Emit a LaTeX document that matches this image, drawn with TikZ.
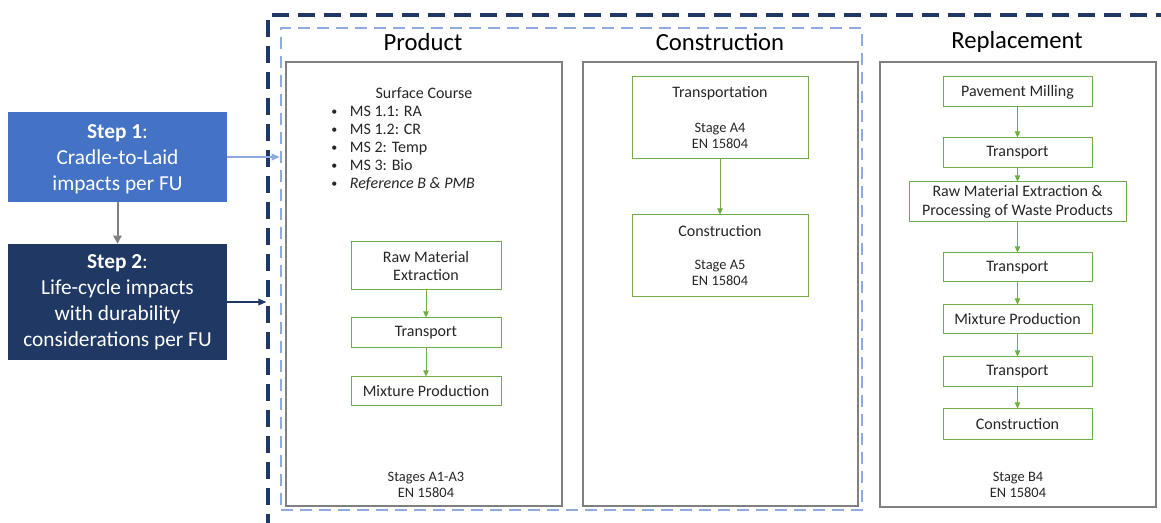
\documentclass[tikz,border=0pt]{standalone}
\usepackage{fontspec}
\setmainfont{Carlito}
\usetikzlibrary{fit,arrows.meta}
\definecolor{navy}{HTML}{203864}
\definecolor{stepblue}{HTML}{4472C4}
\definecolor{paleblue}{HTML}{8FAADC}
\definecolor{leaf}{HTML}{70AD47}
\definecolor{framegray}{HTML}{808080}
\definecolor{ink}{HTML}{262626}
\newcommand{\smallbullet}{\raisebox{1.2pt}{\fontsize{9}{9}\selectfont\textbullet}}
\tikzset{
  stagebox/.style={draw=framegray, line width=1.5pt, inner sep=0pt},
  gbox/.style={draw=leaf, line width=0.75pt, inner sep=0pt},
  gtext/.style={text=ink, align=center, inner sep=0pt, font=\fontsize{12}{14}\selectfont},
  small/.style={text=ink, align=center, inner sep=0pt, font=\fontsize{10.8}{12}\selectfont},
  title/.style={text=black, font=\fontsize{18.5}{20}\selectfont},
  bul/.style={text=ink, anchor=west, inner sep=0pt, text height=8.5pt, text depth=2.5pt,
    font=\fontsize{12}{14}\selectfont},
  stepbox/.style={inner sep=0pt},
  steptext/.style={inner sep=0pt, text=white, align=center, font=\fontsize{16}{19.5}\selectfont},
  garrow/.style={draw=leaf, line width=0.75pt, -{Triangle[length=4.5pt,width=4pt]}},
}
\begin{document}
\begin{tikzpicture}[x=0.75pt,y=-0.75pt]
\useasboundingbox (0,0) rectangle (1161,523);

% outer and inner dashed frames
\node[fit={(268,15) (1180,526)}, draw=navy, line width=2.5pt,
      dash pattern=on 12.75pt off 6.75pt, inner sep=0pt] (outer) {};
\node[fit={(281,28) (862,510)}, draw=paleblue, line width=1.9pt,
      dash pattern=on 9pt off 5.25pt, inner sep=0pt] (inner) {};

% step boxes
\node[stepbox, fill=stepblue, fit={(8,112) (227,202)}] (s1) {};
\node[steptext] (s1t) at ([yshift=-1.5pt]s1.center) {\textbf{Step 1}:\\Cradle-to-Laid\\impacts per FU};
\node[stepbox, fill=navy, fit={(8,244) (227,360)}] (s2) {};
\node[steptext] (s2t) at (s2.center) {\textbf{Step 2}:\\Life-cycle impacts\\with durability\\considerations per FU};

\draw[draw=framegray, line width=1.5pt, -{Triangle[length=6pt,width=6pt]}] (s1.south) -- (s2.north);
\draw[draw=paleblue, line width=1pt, -{Triangle[length=6pt,width=5pt]}] (s1.east) -- (s1.east -| inner.west);
\draw[draw=navy, line width=1pt, -{Triangle[length=6pt,width=5pt]}] (s2.east) -- (s2.east -| outer.west);

% stage titles and frames
\node[title] (tprod) at (423,42) {Product};
\node[title] (tcons) at (720,42) {Construction};
\node[title] (trepl) at (1017,42) {Replacement};
\node[stagebox, fit={(286,62) (562,506)}] (prod) {};
\node[stagebox, fit={(583,62) (858,506)}] (cons) {};
\node[stagebox, fit={(880,62) (1156,507)}] (repl) {};

% product stage
\node[gtext] (surf) at (424,93) {Surface Course};
\foreach \t [count=\i] in {MS 1.1: RA, MS 1.2: CR, MS 2: Temp, MS 3: Bio, \textit{Reference B \& PMB}}
  \node[bul] (b\i) at (331,95+18*\i) {\makebox[14pt][l]{\smallbullet}\t};
\node[gbox, fit={(351,242) (501,290)}] (p1) {};
\node[gtext] at (p1.center) {Raw Material\\Extraction};
\node[gbox, fit={(351,318) (501,348)}] (p2) {};
\node[gtext] at (p2.center) {Transport};
\node[gbox, fit={(351,377) (501,406)}] (p3) {};
\node[gtext] at (p3.center) {Mixture Production};
\draw[garrow] (p1.south) -- (p2.north);
\draw[garrow] (p2.south) -- (p3.north);
\node[small] (pst) at (426,485) {Stages A1-A3\\EN 15804};

% construction stage
\node[gbox, fit={(632,77) (808,159)}] (c1) {};
\node[gtext] (c1t) at (720,93) {Transportation};
\node[small] (c1s) at (720,136) {Stage A4\\EN 15804};
\node[gbox, fit={(632,215) (808,297)}] (c2) {};
\node[gtext] (c2t) at (720,231) {Construction};
\node[small] (c2s) at (720,273) {Stage A5\\EN 15804};
\draw[garrow] (c1.south) -- (c2.north);

% replacement stage
\node[gbox, fit={(943,77) (1092,107)}] (r1) {};
\node[gtext] at (r1.center) {Pavement Milling};
\node[gbox, fit={(943,138) (1092,168)}] (r2) {};
\node[gtext] at (r2.center) {Transport};
\node[gbox, fit={(909,182) (1126,222)}] (r3) {};
\node[gtext] at (r3.center) {Raw Material Extraction \&\\Processing of Waste Products};
\node[gbox, fit={(943,253) (1092,282)}] (r4) {};
\node[gtext] at (r4.center) {Transport};
\node[gbox, fit={(943,305) (1092,334)}] (r5) {};
\node[gtext] at (r5.center) {Mixture Production};
\node[gbox, fit={(943,357) (1092,387)}] (r6) {};
\node[gtext] at (r6.center) {Transport};
\node[gbox, fit={(943,409) (1092,440)}] (r7) {};
\node[gtext] at (r7.center) {Construction};
\foreach \a/\b in {r1/r2, r2/r3, r3/r4, r4/r5, r5/r6, r6/r7}
  \draw[garrow] (\a.south) -- (\b.north);
\node[small] (rst) at (1018,485) {Stage B4\\EN 15804};
\end{tikzpicture}
\end{document}
